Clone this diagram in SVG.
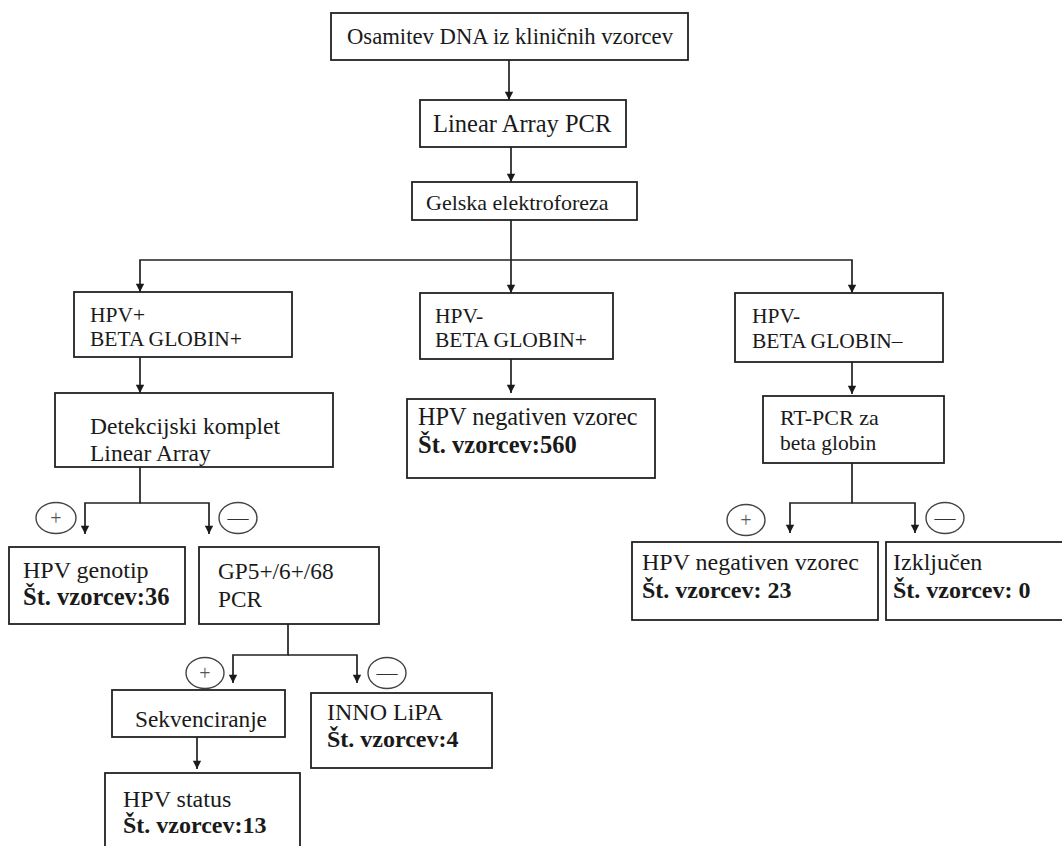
<svg xmlns="http://www.w3.org/2000/svg" width="1062" height="846" viewBox="0 0 1062 846">
<defs>
<style>
.box{fill:#fff;stroke:#222;stroke-width:1.8}
.t{font-family:"Liberation Serif","Times New Roman",serif;fill:#1a1a1a}
.b{font-weight:bold}
.c{fill:none;stroke:#222;stroke-width:1.7}
.sig{fill:none;stroke:#444;stroke-width:1.4}
.pl{font-size:20px;fill:#555}
.mi{font-size:21px;fill:#333}
</style>
<marker id="a" viewBox="0 0 10 12" refX="10" refY="6" markerWidth="11" markerHeight="10" markerUnits="userSpaceOnUse" orient="auto">
<path d="M0,1 L10,6 L0,11 Z" fill="#1a1a1a"/>
</marker>
</defs>
<rect width="1062" height="846" fill="#fff"/>

<g id="connectors">
<path class="c" d="M509,60 V100" marker-end="url(#a)"/>
<path class="c" d="M511,147 V182" marker-end="url(#a)"/>
<path class="c" d="M511,220 V260"/>
<path class="c" d="M511,260 H140 V292" marker-end="url(#a)"/>
<path class="c" d="M511,260 V293" marker-end="url(#a)"/>
<path class="c" d="M511,260 H852 V293" marker-end="url(#a)"/>
<path class="c" d="M140,357 V393" marker-end="url(#a)"/>
<path class="c" d="M511,359 V393" marker-end="url(#a)"/>
<path class="c" d="M852,362 V394" marker-end="url(#a)"/>
<path class="c" d="M140,467 V503 H85 V534" marker-end="url(#a)"/>
<path class="c" d="M140,503 H209 V534" marker-end="url(#a)"/>
<path class="c" d="M288,624 V655 H233 V683" marker-end="url(#a)"/>
<path class="c" d="M288,655 H357 V683" marker-end="url(#a)"/>
<path class="c" d="M197,737 V769" marker-end="url(#a)"/>
<path class="c" d="M852,463 V503 H790 V533" marker-end="url(#a)"/>
<path class="c" d="M852,503 H915 V533" marker-end="url(#a)"/>
</g>

<g id="signs">
<ellipse class="sig" cx="56" cy="518" rx="20" ry="15.5"/>
<text class="t pl" x="56" y="525" text-anchor="middle">+</text>
<ellipse class="sig" cx="238" cy="518" rx="19" ry="15.5"/>
<text class="t mi" x="238" y="525" text-anchor="middle">—</text>
<ellipse class="sig" cx="205" cy="673" rx="19" ry="15.5"/>
<text class="t pl" x="205" y="680" text-anchor="middle">+</text>
<ellipse class="sig" cx="387" cy="673" rx="19" ry="15.5"/>
<text class="t mi" x="387" y="680" text-anchor="middle">—</text>
<ellipse class="sig" cx="746" cy="520" rx="19" ry="15.5"/>
<text class="t pl" x="746" y="527" text-anchor="middle">+</text>
<ellipse class="sig" cx="945" cy="518" rx="19" ry="15.5"/>
<text class="t mi" x="945" y="525" text-anchor="middle">—</text>
</g>

<g id="n1">
<rect class="box" x="331" y="13" width="357" height="47"/>
<text class="t" x="347" y="44" font-size="22.6" textLength="326" lengthAdjust="spacingAndGlyphs">Osamitev DNA iz kliničnih vzorcev</text>
</g>
<g id="n2">
<rect class="box" x="420" y="100" width="206" height="47"/>
<text class="t" x="433" y="132" font-size="24.5">Linear Array PCR</text>
</g>
<g id="n3">
<rect class="box" x="412" y="182" width="225" height="38"/>
<text class="t" x="426" y="210" font-size="22">Gelska elektroforeza</text>
</g>
<g id="n4">
<rect class="box" x="74" y="292" width="218" height="65"/>
<text class="t" x="90" y="322" font-size="21.5">HPV+</text>
<text class="t" x="90" y="346" font-size="21.5">BETA GLOBIN+</text>
</g>
<g id="n5">
<rect class="box" x="420" y="293" width="193" height="66"/>
<text class="t" x="435" y="323" font-size="21.5">HPV-</text>
<text class="t" x="435" y="347" font-size="21.5">BETA GLOBIN+</text>
</g>
<g id="n6">
<rect class="box" x="735" y="293" width="208" height="69"/>
<text class="t" x="752" y="323" font-size="21.5">HPV-</text>
<text class="t" x="752" y="348" font-size="21.5">BETA GLOBIN–</text>
</g>
<g id="n7">
<rect class="box" x="55" y="393" width="278" height="74"/>
<text class="t" x="90" y="434" font-size="23.5">Detekcijski komplet</text>
<text class="t" x="90" y="461" font-size="23.5">Linear Array</text>
</g>
<g id="n8">
<rect class="box" x="407" y="399" width="248" height="79"/>
<text class="t" x="418" y="425" font-size="24.3">HPV negativen vzorec</text>
<text class="t b" x="418" y="453" font-size="24.5">Št. vzorcev:560</text>
</g>
<g id="n9">
<rect class="box" x="763" y="396" width="181" height="67"/>
<text class="t" x="780" y="425" font-size="22">RT-PCR za</text>
<text class="t" x="780" y="450" font-size="21.5">beta globin</text>
</g>
<g id="n10">
<rect class="box" x="9" y="547" width="176" height="77"/>
<text class="t" x="23" y="578" font-size="24">HPV genotip</text>
<text class="t b" x="23" y="605" font-size="24.5">Št. vzorcev:36</text>
</g>
<g id="n11">
<rect class="box" x="199" y="547" width="180" height="77"/>
<text class="t" x="218" y="579" font-size="23.3">GP5+/6+/68</text>
<text class="t" x="218" y="607" font-size="23.3">PCR</text>
</g>
<g id="n12">
<rect class="box" x="632" y="542" width="246" height="78"/>
<text class="t" x="642" y="570" font-size="24">HPV negativen vzorec</text>
<text class="t b" x="642" y="598" font-size="24">Št. vzorcev: 23</text>
</g>
<g id="n13">
<rect class="box" x="886" y="542" width="180" height="78"/>
<text class="t" x="893" y="570" font-size="24">Izključen</text>
<text class="t b" x="893" y="598" font-size="24">Št. vzorcev: 0</text>
</g>
<g id="n14">
<rect class="box" x="112" y="690" width="173" height="47"/>
<text class="t" x="135" y="727" font-size="23.3">Sekvenciranje</text>
</g>
<g id="n15">
<rect class="box" x="311" y="693" width="181" height="75"/>
<text class="t" x="327" y="720" font-size="24">INNO LiPA</text>
<text class="t b" x="327" y="747" font-size="24">Št. vzorcev:4</text>
</g>
<g id="n16">
<rect class="box" x="105" y="773" width="195" height="80"/>
<text class="t" x="123" y="807" font-size="24">HPV status</text>
<text class="t b" x="123" y="833" font-size="24">Št. vzorcev:13</text>
</g>
</svg>
